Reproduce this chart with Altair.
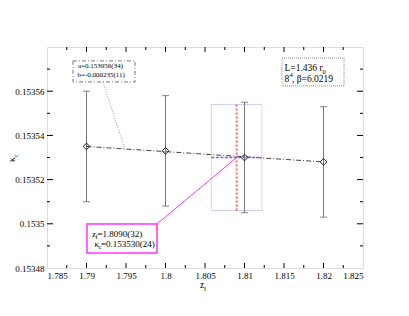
import altair as alt
import pandas as pd

# ---- data ----
z_vals = [1.79, 1.80, 1.81, 1.82]
kappa_vals = [0.153535, 0.153533, 0.153530, 0.153528]
kappa_err = [0.000025, 0.000025, 0.000025, 0.000025]

fit_z = [1.79, 1.82]
fit_kappa = [0.153535, 0.153528]

zf_val, zf_err = 1.8090, 0.0032
kc_val, kc_err = 0.153530, 0.000024

x_major = [1.785, 1.79, 1.795, 1.80, 1.805, 1.81, 1.815, 1.82, 1.825]
x_minor = [1.7875, 1.7925, 1.7975, 1.8025, 1.8075, 1.8125, 1.8175, 1.8225]
y_major = [0.15348, 0.15350, 0.15352, 0.15354, 0.15356]
y_minor = [0.15349, 0.15351, 0.15353, 0.15355, 0.15357]
y_ticks_major = [0.15350, 0.15352, 0.15354, 0.15356]

fit_text = ["a=0.153956(34)", "b=-0.000235(11)"]

# ---- annotation layout (data coordinates) ----
FIT_BOX = (1.78829, 1.79614, 0.1535737, 0.1535642)
INFO_BOX = (1.81475, 1.82260, 0.1535750, 0.1535624)
MAG_BOX = (1.79006, 1.79892, 0.1534999, 0.1534868)
CONNECT = ([1.79209, 1.79487], [0.1535641, 0.1535338])

W, H = 316, 221
FONT = "Liberation Serif, DejaVu Serif, serif"

xs = alt.Scale(domain=[1.785, 1.825], nice=False, zero=False)
ys = alt.Scale(domain=[0.15348, 0.15358], nice=False, zero=False)
x_axis = alt.Axis(values=x_major, labelExpr="format(datum.value, '.3~f')", ticks=False,
                  domain=False, grid=False, title=None, labelFont=FONT, labelFontSize=9,
                  labelPadding=3, labelColor="black")
y_axis = alt.Axis(values=y_major, labelExpr="format(datum.value, '.5~f')", ticks=False,
                  domain=False, grid=False, title=None, labelFont=FONT, labelFontSize=9,
                  labelPadding=3, labelColor="black")


def X(f):
    return alt.X(f"{f}:Q", scale=xs, axis=x_axis)


def Y(f):
    return alt.Y(f"{f}:Q", scale=ys, axis=y_axis)


pts = pd.DataFrame({"z": z_vals, "k": kappa_vals, "e": kappa_err})
pts["lo"] = pts["k"] - pts["e"]
pts["hi"] = pts["k"] + pts["e"]

err = alt.Chart(pts).mark_rule(color="#777777", strokeWidth=1).encode(x=X("z"), y=Y("lo"), y2="hi")
cap_lo = alt.Chart(pts).mark_tick(orient="horizontal", color="#555555", size=7, thickness=1).encode(x=X("z"), y=Y("lo"))
cap_hi = alt.Chart(pts).mark_tick(orient="horizontal", color="#555555", size=7, thickness=1).encode(x=X("z"), y=Y("hi"))

fit = alt.Chart(pd.DataFrame({"z": fit_z, "k": fit_kappa})).mark_line(
    color="#444444", strokeWidth=1, strokeDash=[5, 2, 1, 2]).encode(x=X("z"), y=Y("k"))

# result box
box_h = pd.DataFrame({"x1": [zf_val - zf_err] * 2, "x2": [zf_val + zf_err] * 2,
                      "y": [kc_val - kc_err, kc_val + kc_err]})
box_v = pd.DataFrame({"x": [zf_val - zf_err, zf_val + zf_err],
                      "y1": [kc_val - kc_err] * 2, "y2": [kc_val + kc_err] * 2})
bh = alt.Chart(box_h).mark_rule(color="#9999ff", strokeWidth=1, strokeDash=[1, 1]).encode(
    x=X("x1"), x2="x2", y=Y("y"))
bv = alt.Chart(box_v).mark_rule(color="#ff9999", strokeWidth=1, strokeDash=[1, 1]).encode(
    x=X("x"), y=Y("y1"), y2="y2")
center_v = alt.Chart(pd.DataFrame({"x": [zf_val], "y1": [kc_val - kc_err], "y2": [kc_val + kc_err]})).mark_rule(
    color="#ff6666", strokeWidth=2, strokeDash=[2, 2]).encode(x=X("x"), y=Y("y1"), y2="y2")
center_h = alt.Chart(pd.DataFrame({"x1": [zf_val - zf_err], "x2": [zf_val + zf_err], "y": [kc_val]})).mark_rule(
    color="#6666ff", strokeWidth=1.5, strokeDash=[3, 1.5]).encode(x=X("x1"), x2="x2", y=Y("y"))

mag_line = alt.Chart(pd.DataFrame({"x": [MAG_BOX[1], zf_val], "y": [MAG_BOX[2], kc_val]})).mark_line(
    color="#ff33ff", strokeWidth=1).encode(x=X("x"), y=Y("y"))

connector = alt.Chart(pd.DataFrame({"x": CONNECT[0], "y": CONNECT[1]})).mark_line(
    color="#999999", strokeWidth=1, strokeDash=[1, 1.5]).encode(x=X("x"), y=Y("y"))

markers = alt.Chart(pts).mark_point(shape="diamond", filled=False, size=45, color="#222222",
                                    strokeWidth=1, opacity=1).encode(x=X("z"), y=Y("k"))


def box(b, stroke, dash, sw=1):
    df = pd.DataFrame({"x1": [b[0]], "x2": [b[1]], "y1": [b[2]], "y2": [b[3]]})
    kw = dict(fill="white", stroke=stroke, strokeWidth=sw)
    if dash:
        kw["strokeDash"] = dash
    return alt.Chart(df).mark_rect(**kw).encode(x=X("x1"), x2="x2", y=Y("y1"), y2="y2")


fit_box = box(FIT_BOX, "#555555", [4, 2, 1, 2], 0.8)
info_box = box(INFO_BOX, "#888888", [1, 1])
mag_box = box(MAG_BOX, "#ff33ff", None, 1.5)


def txt(b, s, dx, dy, size=9, color="black"):
    df = pd.DataFrame({"x": [b[0]], "y": [b[2]], "t": [s]})
    return alt.Chart(df).mark_text(align="left", baseline="alphabetic", dx=dx, dy=dy, font=FONT,
                                   fontSize=size, color=color).encode(x=X("x"), y=Y("y"), text="t:N")


texts = [
    txt(FIT_BOX, fit_text[0], 5, 7.5, 7),
    txt(FIT_BOX, fit_text[1], 4.5, 16, 7),
    txt(INFO_BOX, "L=1.436 r", 2.5, 12.5, 9.5),
    txt(INFO_BOX, "0", 40.5, 15.5, 6.5),
    txt(INFO_BOX, "8", 2.5, 23.5, 9.5),
    txt(INFO_BOX, "4", 7.5, 19, 6.5),
    txt(INFO_BOX, ", \u03b2=6.0219", 10, 23.5, 9.5),
    txt(MAG_BOX, "z", 5, 13, 9),
    txt(MAG_BOX, "f", 8.5, 15, 6.5),
    txt(MAG_BOX, "=1.8090(32)", 10.5, 13, 9),
    txt(MAG_BOX, "\u03ba", 7.5, 23, 9),
    txt(MAG_BOX, "c", 11.5, 25, 6.5),
    txt(MAG_BOX, "=0.153530(24)", 14, 23, 9),
]

# frame ticks (inside, all four sides)
def hticks(vals, length, side):
    df = pd.DataFrame({"v": vals})
    if side == "left":
        enc = dict(x=alt.value(0), x2=alt.value(length))
    else:
        enc = dict(x=alt.value(W), x2=alt.value(W - length))
    return alt.Chart(df).mark_rule(color="black", strokeWidth=1).encode(y=Y("v"), **enc)


def vticks(vals, length, side):
    df = pd.DataFrame({"v": vals})
    if side == "top":
        enc = dict(y=alt.value(0), y2=alt.value(length))
    else:
        enc = dict(y=alt.value(H), y2=alt.value(H - length))
    return alt.Chart(df).mark_rule(color="black", strokeWidth=1).encode(x=X("v"), **enc)


ticks = [
    hticks(y_ticks_major, 6, "left"), hticks(y_minor, 3, "left"),
    hticks(y_ticks_major, 6, "right"), hticks(y_minor, 3, "right"),
    vticks(x_major[1:-1], 5, "top"), vticks(x_minor, 3, "top"),
    vticks(x_major[1:-1], 5, "bottom"), vticks(x_minor, 3, "bottom"),
]

# axis titles
xt1 = alt.Chart(pd.DataFrame({"t": ["z"]})).mark_text(align="left", baseline="alphabetic", font=FONT,
                                                      fontSize=9.5).encode(x=alt.value(153), y=alt.value(241), text="t:N")
xt2 = alt.Chart(pd.DataFrame({"t": ["f"]})).mark_text(align="left", baseline="alphabetic", font=FONT,
                                                      fontSize=6.5).encode(x=alt.value(157), y=alt.value(244), text="t:N")
yt1 = alt.Chart(pd.DataFrame({"t": ["\u03ba"]})).mark_text(align="left", baseline="alphabetic", font=FONT,
                                                           fontSize=9.5, angle=270).encode(x=alt.value(-32), y=alt.value(115), text="t:N")
yt2 = alt.Chart(pd.DataFrame({"t": ["c"]})).mark_text(align="left", baseline="alphabetic", font=FONT,
                                                      fontSize=6.5, angle=270).encode(x=alt.value(-29.5), y=alt.value(110), text="t:N")

chart = alt.layer(
    err, cap_lo, cap_hi, fit, bh, bv, center_v, center_h, mag_line, connector, markers,
    fit_box, info_box, mag_box, *texts, *ticks, xt1, xt2, yt1, yt2
).properties(
    width=W, height=H,
    padding={"left": 39, "top": 39, "right": 38, "bottom": 40},
    autosize=alt.AutoSizeParams(type="none"),
).configure_view(stroke="black", strokeWidth=1).configure(background="white")

chart.save("out.html", embed_options={"renderer": "svg", "actions": False})
